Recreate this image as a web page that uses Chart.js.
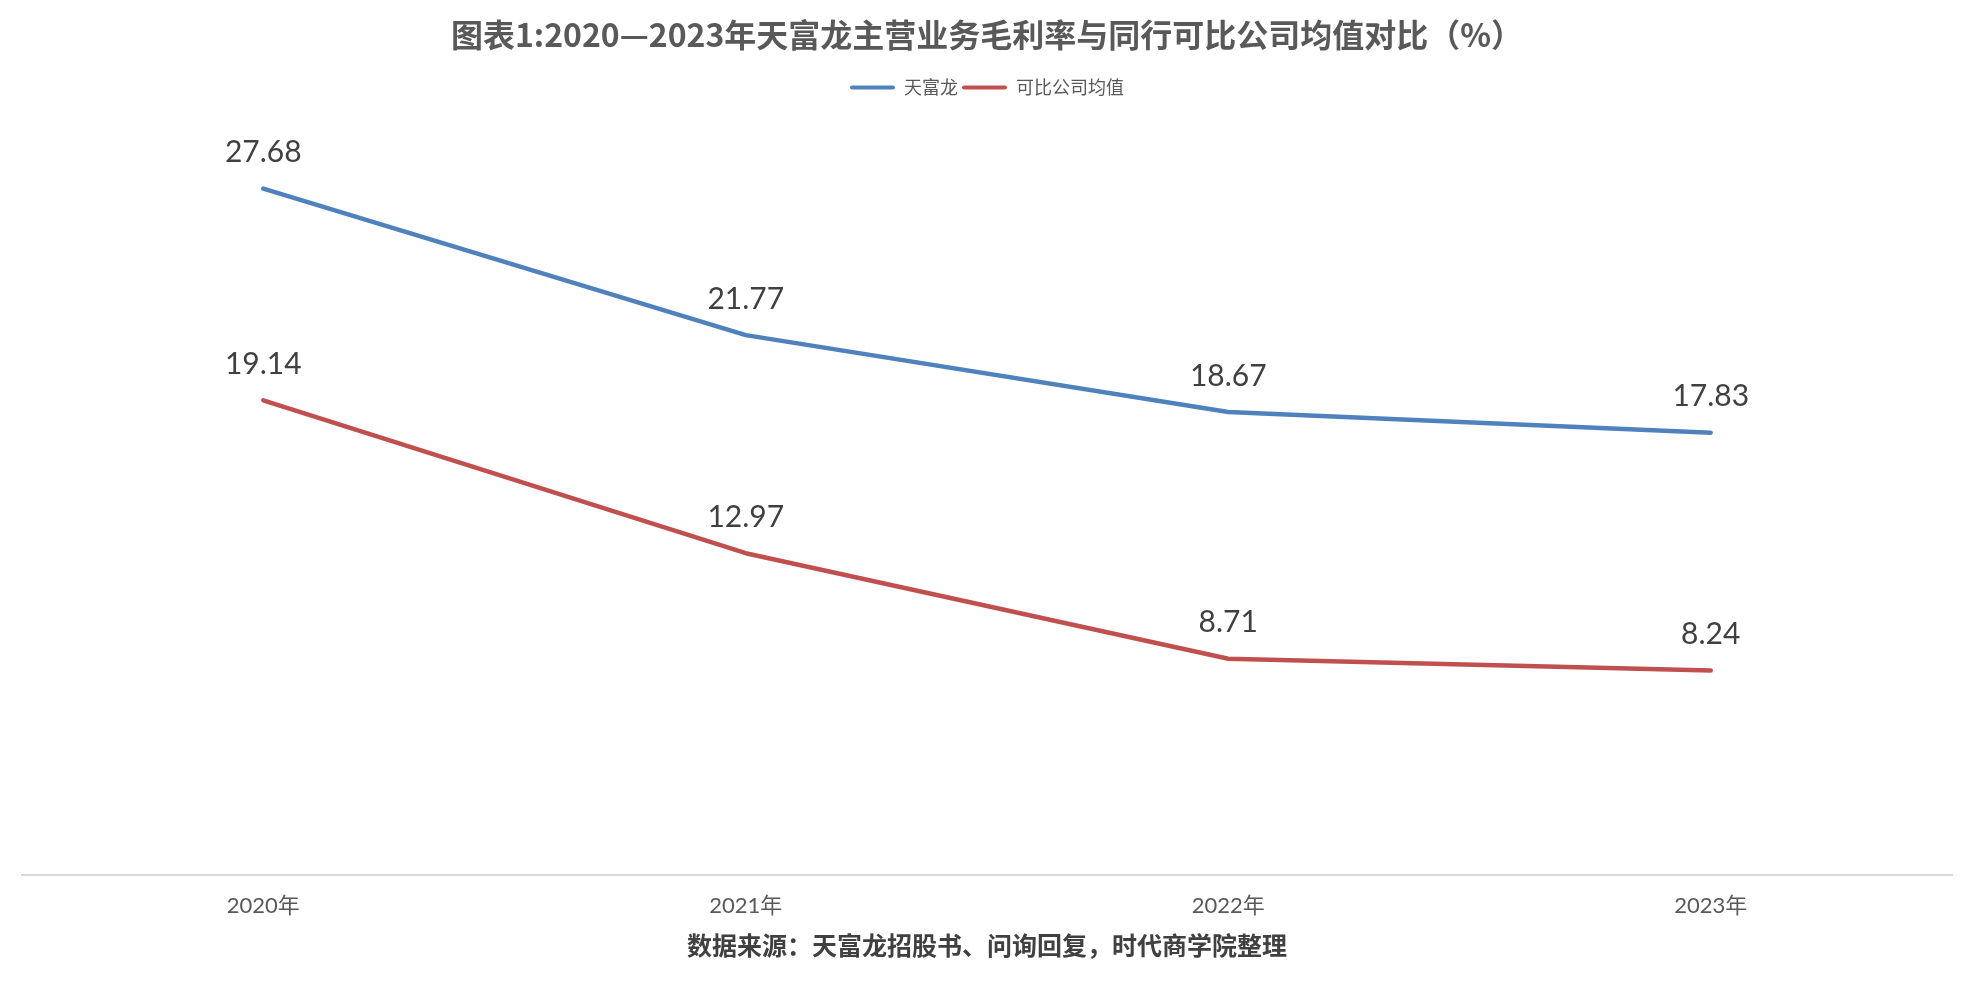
<!DOCTYPE html>
<html>
<head>
<meta charset="utf-8">
<script src="https://cdn.jsdelivr.net/npm/chart.js@4.4.0/dist/chart.umd.min.js"></script>
<style>
  body { margin: 0; background: #fff; }
  #wrap { width: 1974px; height: 988px; }
</style>
</head>
<body>
<div id="wrap"><canvas id="chart" width="1974" height="988"></canvas></div>
<script>
const years = ["2020年", "2021年", "2022年", "2023年"];
const tianfulong = [27.68, 21.77, 18.67, 17.83];
const peerAvg = [19.14, 12.97, 8.71, 8.24];

const cjk = "'Noto Sans CJK SC', sans-serif";

// value labels above each point
const valueLabels = {
  id: "valueLabels",
  afterDatasetsDraw(chart) {
    const ctx = chart.ctx;
    ctx.save();
    ctx.font = "30px Lato, " + cjk;
    ctx.fillStyle = "#404040";
    ctx.textAlign = "center";
    ctx.textBaseline = "middle";
    chart.data.datasets.forEach((ds, i) => {
      chart.getDatasetMeta(i).data.forEach((pt, j) => {
        ctx.fillText(ds.data[j].toFixed(2), pt.x, pt.y - 36);
      });
    });
    ctx.restore();
  }
};

new Chart(document.getElementById("chart"), {
  type: "line",
  data: {
    labels: years,
    datasets: [
      {
        label: "天富龙",
        data: tianfulong,
        borderColor: "rgb(79,129,189)",
        backgroundColor: "rgb(79,129,189)",
        borderWidth: 4.5,
        pointRadius: 0,
        tension: 0,
        borderJoinStyle: "round",
        borderCapStyle: "round"
      },
      {
        label: "可比公司均值",
        data: peerAvg,
        borderColor: "rgb(192,80,77)",
        backgroundColor: "rgb(192,80,77)",
        borderWidth: 4.5,
        pointRadius: 0,
        tension: 0,
        borderJoinStyle: "round",
        borderCapStyle: "round"
      }
    ]
  },
  options: {
    responsive: false,
    animation: false,
    layout: { padding: { left: 22, right: 22 } },
    scales: {
      x: {
        offset: true,
        grid: { display: false },
        border: { color: "#d9d9d9", width: 2 },
        ticks: {
          color: "#595959",
          padding: 10,
          font: { family: "Lato, " + cjk, size: 22 }
        }
      },
      y: {
        display: false,
        min: 0,
        max: 31
      }
    },
    plugins: {
      tooltip: { enabled: false },
      title: {
        display: true,
        text: "图表1:2020—2023年天富龙主营业务毛利率与同行可比公司均值对比（%）",
        color: "#595959",
        font: { family: cjk, size: 32, weight: "bold" },
        padding: { top: 16, bottom: 20 }
      },
      legend: {
        position: "top",
        labels: {
          color: "#595959",
          font: { family: cjk, size: 18 },
          boxWidth: 45,
          boxHeight: 4,
          padding: 4,
          useBorderRadius: true,
          borderRadius: 2,
          generateLabels: (chart) =>
            Chart.defaults.plugins.legend.labels.generateLabels(chart).map((l) => ({ ...l, lineWidth: 0 }))
        }
      },
      subtitle: {
        display: true,
        position: "bottom",
        text: "数据来源：天富龙招股书、问询回复，时代商学院整理",
        color: "#404040",
        font: { family: cjk, size: 25, weight: "bold" },
        padding: { top: 1, bottom: 28 }
      }
    }
  },
  plugins: [valueLabels]
});
</script>
</body>
</html>
